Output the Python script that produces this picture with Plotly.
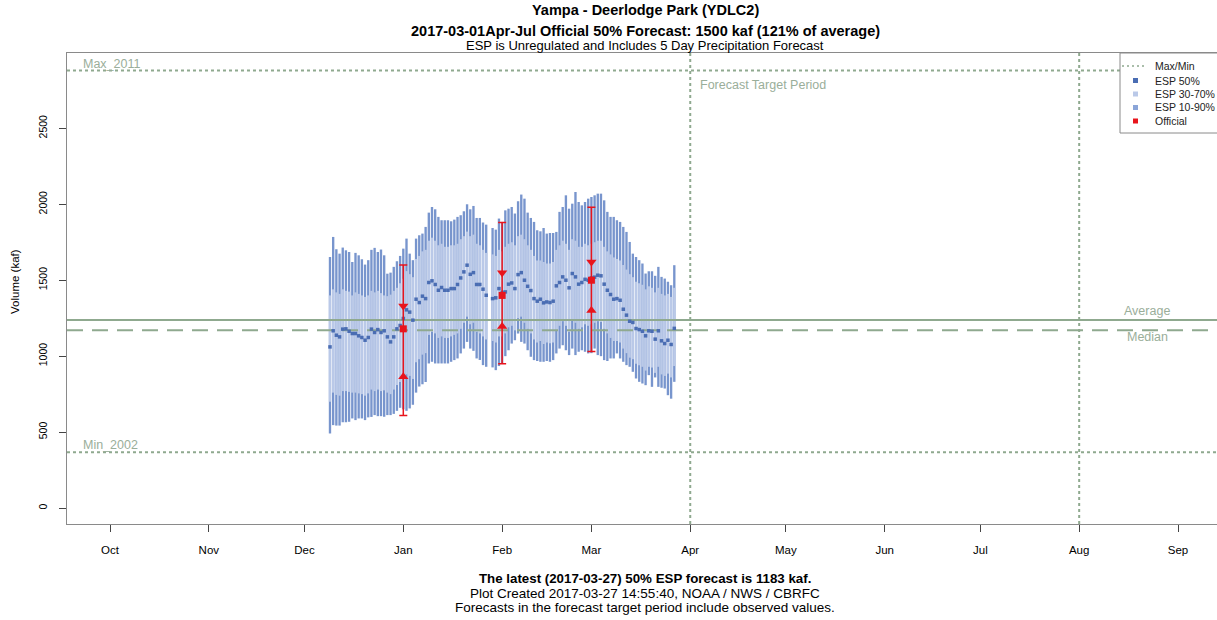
import plotly.graph_objects as go
import pandas as pd

# ---------------- data ----------------
title_line1 = "Yampa - Deerlodge Park (YDLC2)"
title_line2 = "2017-03-01Apr-Jul Official 50% Forecast: 1500 kaf (121% of average)"
title_line3 = "ESP is Unregulated and Includes 5 Day Precipitation Forecast"
footer_line1 = "The latest (2017-03-27) 50% ESP forecast is 1183 kaf."
footer_line2 = "Plot Created 2017-03-27 14:55:40, NOAA / NWS / CBRFC"
footer_line3 = "Forecasts in the forecast target period include observed values."
y_title = "Volume (kaf)"

month_ticks = ["2016-10-01", "2016-11-01", "2016-12-01", "2017-01-01", "2017-02-01", "2017-03-01",
               "2017-04-01", "2017-05-01", "2017-06-01", "2017-07-01", "2017-08-01", "2017-09-01"]
month_labels = ["Oct", "Nov", "Dec", "Jan", "Feb", "Mar", "Apr", "May", "Jun", "Jul", "Aug", "Sep"]
y_ticks = [0, 500, 1000, 1500, 2000, 2500]

esp_start = "2016-12-09"
esp_p90 = [1653, 1785, 1704, 1675, 1715, 1697, 1686, 1620, 1680, 1664, 1638, 1603, 1632,
           1700,
           1713, 1686, 1702, 1664, 1543, 1550, 1588, 1625, 1660, 1708, 1774, 1675,
           1632, 1774, 1796, 1807, 1851, 1945, 1982, 1967, 1917, 1895, 1895, 1895, 1888, 1899,
           1917, 1928, 1954, 2000, 1967, 1989, 1910, 1910, 1880, 1866,
           None,
           1844, 1833, 1906,
           1884, 1960, 1971, 1982, 1939, 2020, 2064, 2037, 1945, 1910, 1884, 1829, 1822, 1844,
           1807, 1811, 1811, 1818, 1950, 1982, 2059, 1971, 2004, 2081, 2015, 1993, 2015, 2037,
           2048, 2059, 2070, 2070, 2026, 1950, 1917, 1917, 1895, 1884, 1851, 1818, 1752, 1675,
           1653, 1632, 1610, 1544, 1559, 1559, 1529, 1588, 1522, 1511, 1490, 1467, 1599]
esp_p70 = [1400, 1440, 1420, 1410, 1440, 1430, 1425, 1400, 1420, 1410, 1400, 1390, 1400, 1430,
           1420, 1430, 1415, 1400, 1395, 1405, 1430, 1450, 1480,
           1510, 1560, 1540, 1520, 1640, 1660, 1690, 1700,
           1760, 1780, 1760, 1730, 1740, 1720, 1720, 1730, 1730, 1740, 1770, 1790, 1820, 1790,
           1800, 1740, 1730, 1700, 1680,
           None,
           1670, 1660, 1700,
           1690, 1720, 1740, 1750, 1730, 1790, 1800, 1770, 1730, 1700, 1660, 1630, 1630, 1620,
           1610, 1610, 1620, 1700, 1730, 1760, 1740, 1700, 1770, 1760, 1720, 1720, 1740, 1730,
           1740, 1750, 1760, 1760, 1720, 1690, 1670, 1650, 1640, 1630, 1600, 1570, 1540, 1520,
           1490, 1480, 1470, 1440, 1460, 1450, 1420, 1450, 1410, 1400, 1410, 1390, 1450]
esp_p50 = [1061, 1167, 1138, 1127, 1178, 1180, 1164, 1149, 1149, 1134, 1123, 1105, 1123, 1178,
           1156, 1175, 1156, 1167, 1127, 1094, 1127, 1180, 1202, 1248, 1305, 1290,
           1237, 1375, 1353, 1395, 1379, 1485, 1496, 1472, 1434, 1452, 1434, 1434, 1445, 1445,
           1472, 1515, 1555, 1599, 1539, 1550, 1472, 1472, 1441, 1401,
           None,
           1379, 1384, 1445,
           1420, 1423, 1474, 1482, 1445, 1537, 1550, 1500, 1460, 1432, 1379, 1362, 1375, 1351,
           1357, 1353, 1362, 1463, 1485, 1522, 1500, 1450, 1544, 1522, 1474, 1485, 1506, 1500,
           1515, 1520, 1533, 1529, 1474, 1434, 1406, 1375, 1379, 1368, 1309, 1270, 1230, 1222,
           1182, 1175, 1164, 1134, 1167, 1164, 1112, 1167, 1101, 1083, 1105, 1077, 1183]
esp_p30 = [700, 760, 745, 740, 770, 770, 765, 760, 760, 755, 750, 740, 755, 780,
           770, 780, 770, 775, 760, 750, 780, 810, 830,
           850, 880, 870, 850, 960, 980, 1010, 1020,
           1140, 1160, 1150, 1120, 1130, 1120, 1120, 1130, 1140, 1150, 1180, 1220, 1260, 1210,
           1220, 1160, 1150, 1130, 1110,
           None,
           1100, 1090, 1130,
           1130, 1150, 1190, 1200, 1170, 1250, 1260, 1220, 1180, 1150, 1110, 1090, 1100, 1080,
           1090, 1085, 1090, 1170, 1200, 1230, 1200, 1160, 1240, 1220, 1180, 1190, 1210, 1200,
           1210, 1220, 1230, 1225, 1180, 1150, 1120, 1100, 1100, 1090, 1050, 1020, 990, 980,
           950, 940, 930, 905, 930, 925, 890, 930, 880, 870, 885, 860, 935]
esp_p10 = [491, 546, 543, 543, 565, 565, 568, 590, 579, 590, 590, 579, 597, 600,
           612, 605, 605, 601, 612, 612, 620, 640, 660, 650, 640, 656,
           680, 760, 800, 815, 830,
           952, 963, 952, 952, 952, 952, 952, 963, 974, 985, 1018, 1050, 1094, 1050,
           1035, 985, 975, 941, 930,
           None,
           926, 908, 935,
           950, 1000, 1039, 1083, 1105, 1149, 1094, 1083, 1039, 996, 974, 968, 963, 963,
           968, 963, 974, 1018, 1050, 1072, 1039, 1007, 1050, 1007, 1029, 1039, 1029, 1018,
           1020, 1050, 1007, 1000, 974, 968, 985, 985, 1018, 985, 963, 941, 930, 897,
           853, 831, 820, 809, 875, 798, 860, 798, 792, 787, 743, 720, 831]

official_dates = ["2017-01-01", "2017-02-01", "2017-03-01"]
official_p90 = [1600, 1880, 1980]
official_p70 = [1330, 1550, 1620]
official_p50 = [1180, 1400, 1500]
official_p30 = [865, 1195, 1300]
official_p10 = [610, 950, 1030]

max_value, max_label = 2880, "Max_2011"
min_value, min_label = 368, "Min_2002"
average_value, average_label = 1238, "Average"
median_value, median_label = 1171, "Median"
target_start, target_end = "2017-04-01", "2017-08-01"
target_label = "Forecast Target Period"

legend_labels = ["Max/Min", "ESP 50%", "ESP 30-70%", "ESP 10-90%", "Official"]

# ---------------- styling / layout helpers ----------------
W, H = 1217, 620
ML, MR, MT, MB = 67, 0, 53, 96
PW, PH = W - ML - MR, H - MT - MB
X_RANGE = ["2016-09-17 12:14", "2017-09-13 05:30"]
Y_RANGE = [-105, 2996]

FONT = "Liberation Sans, Arial, sans-serif"
REF = "#8fa98f"
REF_TXT = "#9aae9a"
DARK_BAR = "#7895cd"
LIGHT_BAR = "#bac9e8"
P50_COL = "#4a6db3"
RED = "#e8141c"


def px_x(px):
    return (px - ML) / PW


def px_y(py):
    return (MT + PH - py) / PH


dates = pd.date_range(esp_start, periods=len(esp_p90), freq="D")
day_ms = 86400000


def span(lo, hi):
    return [None if (a is None or b is None) else b - a for a, b in zip(lo, hi)]


fig = go.Figure()

fig.add_trace(go.Bar(x=dates, y=span(esp_p10, esp_p90), base=esp_p10, width=0.74 * day_ms,
                     marker=dict(color=DARK_BAR, line=dict(width=0)), hoverinfo="skip"))
fig.add_trace(go.Bar(x=dates, y=span(esp_p30, esp_p70), base=esp_p30, width=0.74 * day_ms,
                     marker=dict(color=LIGHT_BAR, line=dict(width=0)), hoverinfo="skip"))

# reference lines
fig.add_trace(go.Scatter(x=X_RANGE, y=[average_value] * 2, mode="lines",
                         line=dict(color=REF, width=2)))
fig.add_trace(go.Scatter(x=X_RANGE, y=[median_value] * 2, mode="lines",
                         line=dict(color=REF, width=2, dash="16px,9px")))
for v in (max_value, min_value):
    fig.add_trace(go.Scatter(x=X_RANGE, y=[v, v], mode="lines",
                             line=dict(color=REF, width=2, dash="3px,3px")))
for d in (target_start, target_end):
    fig.add_trace(go.Scatter(x=[d, d], y=Y_RANGE, mode="lines",
                             line=dict(color=REF, width=2, dash="3px,3px")))

# ESP median points
fig.add_trace(go.Scatter(x=dates, y=esp_p50, mode="markers",
                         marker=dict(symbol="square", size=3.5, color=P50_COL, line=dict(width=0))))

# official forecasts
fig.add_trace(go.Scatter(
    x=official_dates, y=official_p50, mode="markers",
    marker=dict(symbol="square", size=7, color=RED, line=dict(width=0)),
    error_y=dict(type="data", symmetric=False,
                 array=[h - m for h, m in zip(official_p90, official_p50)],
                 arrayminus=[m - l for m, l in zip(official_p50, official_p10)],
                 color=RED, thickness=1.5, width=4)))
fig.add_trace(go.Scatter(x=official_dates, y=official_p70, mode="markers",
                         marker=dict(symbol="triangle-down", size=9, color=RED, line=dict(width=0))))
fig.add_trace(go.Scatter(x=official_dates, y=official_p30, mode="markers",
                         marker=dict(symbol="triangle-up", size=9, color=RED, line=dict(width=0))))

shapes = []
# legend box
shapes.append(dict(type="rect", xref="paper", yref="paper", x0=px_x(1120), x1=px_x(1230),
                   y0=px_y(133), y1=px_y(53), line=dict(color="#8a8a8a", width=1),
                   fillcolor="white", layer="above"))
leg_y = [66, 80.5, 94, 107.5, 121]
shapes.append(dict(type="line", xref="paper", yref="paper", x0=px_x(1122), x1=px_x(1145),
                   y0=px_y(leg_y[0]), y1=px_y(leg_y[0]),
                   line=dict(color=REF, width=1.5, dash="2px,3px"), layer="above"))
for yy, col in zip(leg_y[1:], [P50_COL, LIGHT_BAR, "#8ba5d8", RED]):
    shapes.append(dict(type="rect", xref="paper", yref="paper",
                       x0=px_x(1133), x1=px_x(1138), y0=px_y(yy + 2.5), y1=px_y(yy - 2.5),
                       line=dict(width=0), fillcolor=col, layer="above"))

annotations = []


def add_text(text, x, y, size, bold=False, color="#000", xanchor="center", angle=0):
    annotations.append(dict(text=f"<b>{text}</b>" if bold else text, xref="paper", yref="paper",
                            x=x, y=y, xanchor=xanchor, yanchor="middle", showarrow=False,
                            textangle=angle, font=dict(family=FONT, size=size, color=color)))


cx = px_x(645)
add_text(title_line1, cx, px_y(10), 14.5, bold=True)
add_text(title_line2, cx, px_y(31), 14.5, bold=True)
add_text(title_line3, cx, px_y(45), 13)
add_text(footer_line1, cx, px_y(578), 13.3, bold=True)
add_text(footer_line2, cx, px_y(593), 13.5)
add_text(footer_line3, cx, px_y(607), 13.5)
add_text(y_title, px_x(15), px_y(282), 11.5, angle=-90)

# reference labels
lab_font = dict(family=FONT, size=12.5, color=REF_TXT)
annotations.append(dict(text=max_label, x=X_RANGE[0], y=max_value, xref="x", yref="y",
                        xshift=14, yshift=7, xanchor="left", yanchor="middle", showarrow=False,
                        font=lab_font))
annotations.append(dict(text=min_label, x=X_RANGE[0], y=min_value, xref="x", yref="y",
                        xshift=14, yshift=7, xanchor="left", yanchor="middle", showarrow=False,
                        font=lab_font))
annotations.append(dict(text=average_label, x=px_x(1147), y=average_value, xref="paper", yref="y",
                        yshift=9, xanchor="center", yanchor="middle", showarrow=False,
                        font=lab_font))
annotations.append(dict(text=median_label, x=px_x(1147), y=median_value, xref="paper", yref="y",
                        yshift=-7, xanchor="center", yanchor="middle", showarrow=False,
                        font=lab_font))
annotations.append(dict(text=target_label, x=target_start, y=px_y(85), xref="x", yref="paper",
                        xshift=8, xanchor="left", yanchor="middle", showarrow=False,
                        font=lab_font))
for yy, lab in zip(leg_y, legend_labels):
    add_text(lab, px_x(1153), px_y(yy), 10.5, color="#222", xanchor="left")

fig.update_layout(
    width=W, height=H, margin=dict(l=ML, r=MR, t=MT, b=MB, pad=0),
    paper_bgcolor="white", plot_bgcolor="white", showlegend=False,
    barmode="overlay", font=dict(family=FONT, size=11, color="#000"),
    shapes=shapes, annotations=annotations,
    xaxis=dict(type="date", range=X_RANGE, tickvals=month_ticks, ticktext=month_labels,
               ticks="outside", ticklen=7, tickcolor="#444", showgrid=False, zeroline=False,
               showline=True, mirror=True, linecolor="#8a8a8a", linewidth=1,
               tickfont=dict(family=FONT, size=11.5), ticklabelstandoff=8),
    yaxis=dict(range=Y_RANGE, tickvals=y_ticks, ticks="outside", ticklen=7, tickcolor="#444",
               showgrid=False, zeroline=False, showline=True, mirror=False,
               linecolor="#8a8a8a", linewidth=1, tickangle=-90,
               tickfont=dict(family=FONT, size=10.5), ticklabelstandoff=8),
)

fig.write_html("out.html", config={"displayModeBar": False},
               post_script="document.body.style.margin='0px';document.body.style.overflow='hidden';")
